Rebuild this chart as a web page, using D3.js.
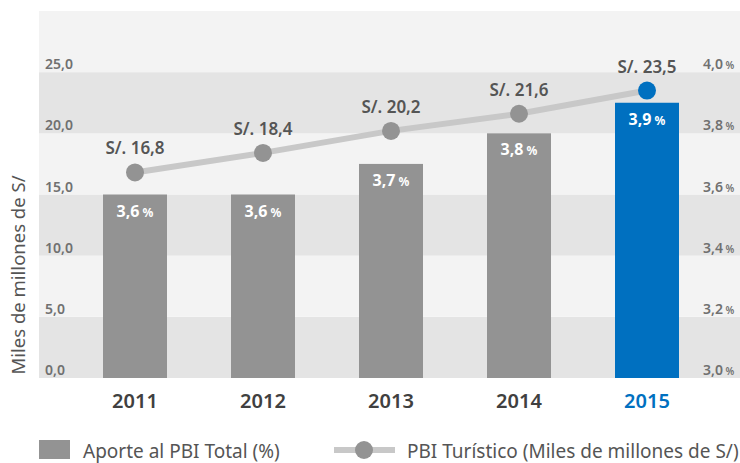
<!DOCTYPE html>
<html>
<head>
<meta charset="utf-8">
<script src="https://cdn.jsdelivr.net/npm/d3@7"></script>
<style>
  body { margin: 0; background: #fff; }
  svg text { font-family: "Noto Sans", "Open Sans", sans-serif; }
</style>
</head>
<body>
<div id="chart"></div>
<script>
const years = ["2011", "2012", "2013", "2014", "2015"];
const aporte = [3.6, 3.6, 3.7, 3.8, 3.9];
const pbiTuristico = [16.8, 18.4, 20.2, 21.6, 23.5];
const leftTicks = [0, 5, 10, 15, 20, 25];
const rightTicks = [3.0, 3.2, 3.4, 3.6, 3.8, 4.0];

const width = 740;
const height = 463;
const plotLeft = 39;
const plotTop = 11;
const plotBottom = 378;

const grey = "#939393";
const blue = "#0070c0";
const lineGrey = "#c8c8c8";
const textGrey = "#555";

const loc = d3.formatLocale({ decimal: ",", thousands: ".", grouping: [3], currency: ["", ""] });
const f1 = loc.format(".1f");

const svg = d3.select("#chart")
    .append("svg")
    .attr("width", width)
    .attr("height", height);

const x = d3.scaleBand()
    .domain(years)
    .range([71, 711])
    .paddingInner(0.5)
    .paddingOuter(0.25);

const yLeft = d3.scaleLinear().domain([0, 30]).range([plotBottom, plotTop]);
const yRight = d3.scaleLinear().domain([3.0, 4.2]).range([plotBottom, plotTop]);

// background bands
d3.range(0, 30, 5).forEach((v, i) => {
    svg.append("rect")
        .attr("x", plotLeft)
        .attr("y", yLeft(v + 5))
        .attr("width", width - plotLeft)
        .attr("height", yLeft(v) - yLeft(v + 5))
        .attr("fill", i % 2 === 0 ? "#e4e4e4" : "#f3f3f3");
});

// left tick labels
svg.selectAll(".ltick")
    .data(leftTicks)
    .join("text")
    .attr("x", 45)
    .attr("y", d => yLeft(d) - 3)
    .attr("font-size", 14)
    .attr("font-weight", 600)
    .attr("fill", "#707070")
    .text(d => f1(d));

// right tick labels
const rt = svg.selectAll(".rtick")
    .data(rightTicks)
    .join("text")
    .attr("x", 703)
    .attr("y", d => yRight(d) - 3)
    .attr("font-size", 14)
    .attr("font-weight", 600)
    .attr("fill", "#707070");
rt.append("tspan").text(d => f1(d));
rt.append("tspan").attr("font-size", 10).text(" %");

// bars
years.forEach((yr, i) => {
    const isLast = i === years.length - 1;
    svg.append("rect")
        .attr("x", x(yr))
        .attr("y", yRight(aporte[i]))
        .attr("width", x.bandwidth())
        .attr("height", plotBottom - yRight(aporte[i]))
        .attr("fill", isLast ? blue : grey);

    const t = svg.append("text")
        .attr("x", x(yr) + x.bandwidth() / 2)
        .attr("y", yRight(aporte[i]) + 22)
        .attr("text-anchor", "middle")
        .attr("fill", "#fff")
        .attr("font-weight", 700);
    t.append("tspan").attr("font-size", 16).text(f1(aporte[i]));
    t.append("tspan").attr("font-size", 12).text(" %");
});

// line
const cx = yr => x(yr) + x.bandwidth() / 2;
const line = d3.line()
    .x((d, i) => cx(years[i]))
    .y(d => yLeft(d));

svg.append("path")
    .datum(pbiTuristico)
    .attr("d", line)
    .attr("fill", "none")
    .attr("stroke", lineGrey)
    .attr("stroke-width", 6);

pbiTuristico.forEach((v, i) => {
    const isLast = i === years.length - 1;
    svg.append("circle")
        .attr("cx", cx(years[i]))
        .attr("cy", yLeft(v))
        .attr("r", 9)
        .attr("fill", isLast ? blue : grey);

    svg.append("text")
        .attr("x", cx(years[i]))
        .attr("y", yLeft(v) - 18)
        .attr("text-anchor", "middle")
        .attr("font-size", 17)
        .attr("font-weight", 600)
        .attr("fill", textGrey)
        .text("S/. " + f1(v));
});

// x labels
svg.selectAll(".xlab")
    .data(years)
    .join("text")
    .attr("x", d => cx(d))
    .attr("y", 408)
    .attr("text-anchor", "middle")
    .attr("font-size", 20)
    .attr("font-weight", 600)
    .attr("fill", (d, i) => i === years.length - 1 ? blue : "#404040")
    .text(d => d);

// y axis title
svg.append("text")
    .attr("transform", "translate(25,275) rotate(-90)")
    .attr("text-anchor", "middle")
    .attr("font-size", 18.5)
    .attr("fill", textGrey)
    .text("Miles de millones de S/");

// legend
svg.append("rect")
    .attr("x", 39)
    .attr("y", 440)
    .attr("width", 31)
    .attr("height", 19)
    .attr("fill", grey);

svg.append("text")
    .attr("x", 83)
    .attr("y", 458)
    .attr("font-size", 19)
    .attr("fill", textGrey)
    .text("Aporte al PBI Total (%)");

svg.append("line")
    .attr("x1", 334)
    .attr("x2", 395)
    .attr("y1", 450)
    .attr("y2", 450)
    .attr("stroke", lineGrey)
    .attr("stroke-width", 6);

svg.append("circle")
    .attr("cx", 364)
    .attr("cy", 450)
    .attr("r", 9)
    .attr("fill", grey);

svg.append("text")
    .attr("x", 407)
    .attr("y", 458)
    .attr("font-size", 19)
    .attr("fill", textGrey)
    .text("PBI Turístico (Miles de millones de S/)");
</script>
</body>
</html>
